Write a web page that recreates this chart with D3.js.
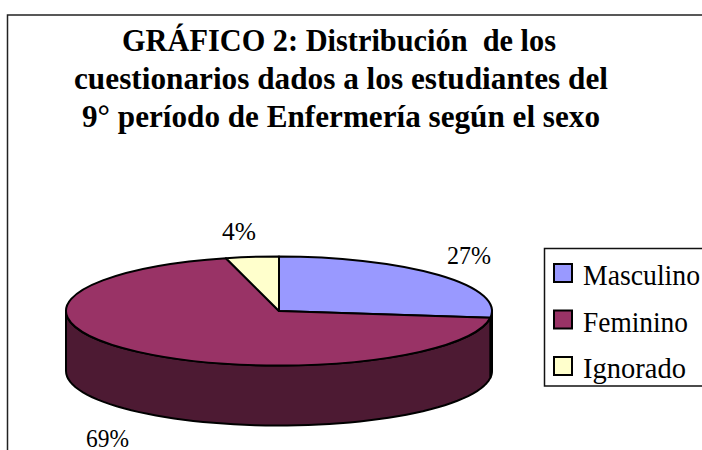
<!DOCTYPE html>
<html><head><meta charset="utf-8">
<script src="https://cdn.jsdelivr.net/npm/d3@7"></script>
<style>html,body{margin:0;padding:0;background:#fff;overflow:hidden}svg{display:block}text{font-family:"Liberation Serif",serif;fill:#000}</style>
</head><body><svg width="702" height="450"></svg>
<script>
const categories = ["Masculino","Feminino","Ignorado"];
const percentValues = [27,69,4];
const topColors = ["#9999ff","#993366","#ffffcc"];
const sideColors = ["#4d4d80","#4d1a33","#808066"];
const titleLines = ["GRÁFICO 2: Distribución  de los","cuestionarios dados a los estudiantes del","9° período de Enfermería según el sexo"];

const svg = d3.select("svg");
const cx=279, cy=311, rx=213, ry=54.5, depth=60;

// frame
svg.append("path").attr("d","M7.5 450V15H702").attr("fill","none").attr("stroke","#222").attr("stroke-width",1.5);

// title
const titleX=[122,74,82], titleW=[434,534,518], titleY=[51,89,127];
svg.selectAll("text.title").data(titleLines).join("text").attr("class","title")
  .attr("x",(d,i)=>titleX[i]).attr("y",(d,i)=>titleY[i]).attr("font-size",31).attr("font-weight","bold")
  .attr("textLength",(d,i)=>titleW[i]).attr("lengthAdjust","spacingAndGlyphs").style("white-space","pre").text(d=>d);

const arcs = d3.pie().sort(null).value(d=>d)(percentValues);
const px=a=>Math.sin(a)*rx, py=a=>-Math.cos(a)*ry;
const g = svg.append("g").attr("transform",`translate(${cx},${cy})`);

// side wall: only the front half of the ellipse (90deg to 270deg)
arcs.forEach((a,i)=>{
  const s=Math.max(a.startAngle,Math.PI/2), e=Math.min(a.endAngle,Math.PI*1.5);
  if(e<=s) return;
  const n=60, ang=d3.range(n+1).map(k=>s+(e-s)*k/n);
  const area=d3.area().x(t=>px(t)).y0(t=>py(t)).y1(t=>py(t)+depth);
  g.append("path").attr("d",area(ang)).attr("fill",sideColors[i]).attr("stroke","#000").attr("stroke-width",2).attr("stroke-linejoin","round");
});

// top slices: unit arcs squashed into the ellipse
const arc=d3.arc().innerRadius(0).outerRadius(1);
g.append("g").attr("transform",`scale(${rx},${ry})`).selectAll("path").data(arcs).join("path")
  .attr("d",arc).attr("fill",(d,i)=>topColors[i]).attr("stroke","#000").attr("stroke-width",2)
  .attr("vector-effect","non-scaling-stroke").attr("stroke-linejoin","round");

// value labels
const labelX=[447,86,222], labelY=[264,447,240], labelW=[44,43,34];
svg.selectAll("text.val").data(percentValues).join("text").attr("class","val")
  .attr("x",(d,i)=>labelX[i]).attr("y",(d,i)=>labelY[i]).attr("font-size",25.5)
  .attr("textLength",(d,i)=>labelW[i]).attr("lengthAdjust","spacingAndGlyphs").text(d=>d+"%");

// legend
svg.append("path").attr("d","M702 248.5H544.5V386H702").attr("fill","none").attr("stroke","#111").attr("stroke-width",1.5);
const legY=d3.scalePoint().domain(categories).range([264,357]);
const legW=[117,105,103];
const leg=svg.selectAll("g.leg").data(categories).join("g").attr("class","leg").attr("transform",d=>`translate(554,${legY(d)})`);
leg.append("rect").attr("width",18).attr("height",18).attr("fill",(d,i)=>topColors[i]).attr("stroke","#000").attr("stroke-width",2);
leg.append("text").attr("x",29).attr("y",21).attr("font-size",29)
  .attr("textLength",(d,i)=>legW[i]).attr("lengthAdjust","spacingAndGlyphs").text(d=>d);
</script></body></html>
